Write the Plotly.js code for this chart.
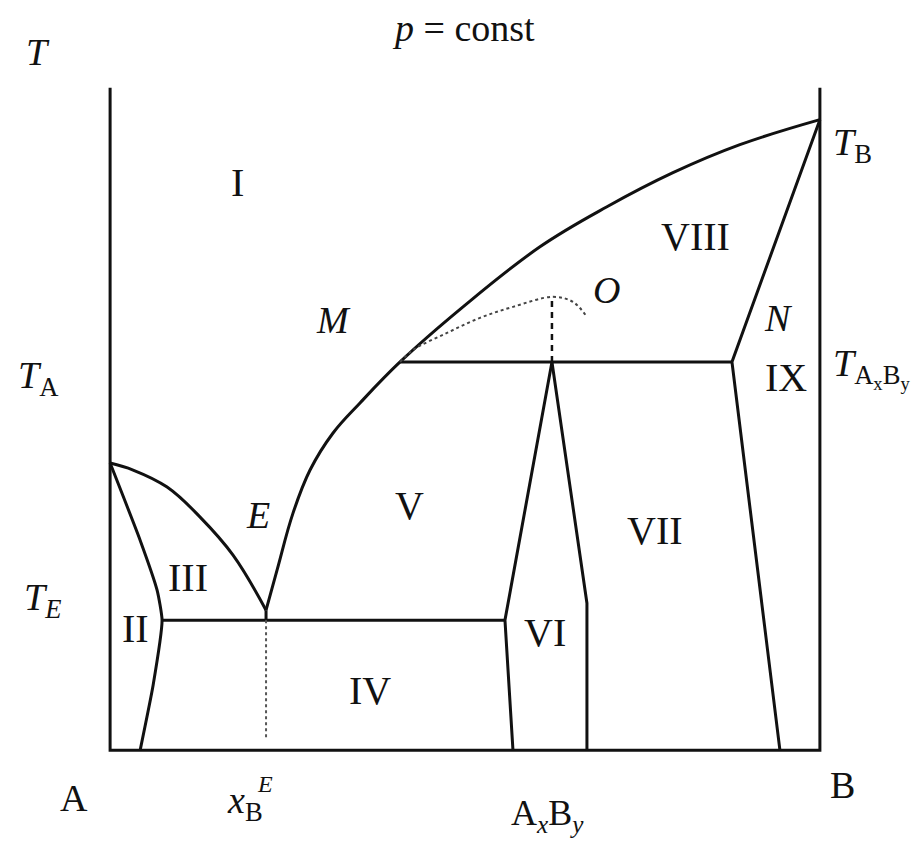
<!DOCTYPE html>
<html>
<head>
<meta charset="utf-8">
<script src="https://cdn.plot.ly/plotly-3.0.1.min.js"></script>
<style>
  html, body { margin: 0; padding: 0; background: #fff; }
  #chart { width: 922px; height: 841px; }
</style>
</head>
<body>
<div id="chart"></div>
<script>
// Binary phase diagram A–B at constant pressure with an incongruently
// melting compound AxBy. Composition x_B runs 0..1, temperature is scaled 0..1.

// Diagram frame (left axis A, bottom, right axis B)
const frame_x = [0, 0, 1, 1];
const frame_T = [1, 0, 0, 1];

// Liquidus from the melting point of A down to the eutectic point E
const liqA_x = [0, 0.0324, 0.0803, 0.1268, 0.1732, 0.2197];
const liqA_T = [0.4335, 0.4230, 0.3973, 0.3520, 0.2946, 0.2115];

// Liquidus from E through the peritectic point M up to the melting point of B
const liqB_x = [0.2197, 0.2352, 0.2577, 0.2817, 0.3141, 0.3521, 0.4085, 0.4972, 0.6056, 0.7000, 0.7930, 0.8873, 1.0];
const liqB_T = [0.2115, 0.2719, 0.3580, 0.4230, 0.4789, 0.5242, 0.5861, 0.6692, 0.7598, 0.8202, 0.8716, 0.9139, 0.9517];

// Solid solution of A (region II boundary)
const ssA_x = [0, 0.0423, 0.0662, 0.0732, 0.0606, 0.0423];
const ssA_T = [0.4335, 0.3172, 0.2417, 0.1964, 0.0982, 0];

// Eutectic isotherm T_E
const eut_x = [0.0732, 0.5563];
const eut_T = [0.1964, 0.1964];

// Short drop at the eutectic point onto the isotherm
const eutDrop_x = [0.2197, 0.2197];
const eutDrop_T = [0.2115, 0.1964];

// Eutectic composition marker x_B^E
const xE_x = [0.2197, 0.2197];
const xE_T = [0.1964, 0.0151];

// Peritectic isotherm T_AxBy
const per_x = [0.4085, 0.8761];
const per_T = [0.5861, 0.5861];

// Homogeneity range of the compound AxBy (region VI)
const cmpL_x = [0.6225, 0.5563, 0.5676];
const cmpL_T = [0.5861, 0.1964, 0];
const cmpR_x = [0.6225, 0.6718, 0.6718];
const cmpR_T = [0.5861, 0.2221, 0];

// Solid solution of B: solidus N and solvus
const solB_x = [1.0, 0.8761, 0.9437];
const solB_T = [0.9517, 0.5861, 0];

// Metastable liquidus of AxBy (point O) and its hidden maximum
const meta_x = [0.4085, 0.4268, 0.4746, 0.5211, 0.5676, 0.6239, 0.6521, 0.6718];
const meta_T = [0.5861, 0.6042, 0.6299, 0.6526, 0.6692, 0.6843, 0.6767, 0.6541];
const hidMax_x = [0.6225, 0.6225];
const hidMax_T = [0.5861, 0.6843];

const INK = '#111';
const solid = { color: INK, width: 3 };
const X_RANGE = [-0.01, 1.01];
const Y_RANGE = [-0.01, 1.01];

function line(x, y, style) {
  return { x, y, type: 'scatter', mode: 'lines', line: style, hoverinfo: 'skip', showlegend: false };
}

const traces = [
  line(frame_x, frame_T, solid),
  line(liqA_x, liqA_T, { color: INK, width: 3, shape: 'spline', smoothing: 1.1 }),
  line(liqB_x, liqB_T, { color: INK, width: 3, shape: 'spline', smoothing: 1.1 }),
  line(ssA_x, ssA_T, { color: INK, width: 3, shape: 'spline', smoothing: 0.5 }),
  line(eut_x, eut_T, solid),
  line(eutDrop_x, eutDrop_T, solid),
  line(xE_x, xE_T, { color: '#555', width: 2, dash: 'dot' }),
  line(per_x, per_T, solid),
  line(cmpL_x, cmpL_T, solid),
  line(cmpR_x, cmpR_T, solid),
  line(solB_x, solB_T, solid),
  line(meta_x, meta_T, { color: '#444', width: 2, dash: 'dot', shape: 'spline', smoothing: 1.0 }),
  line(hidMax_x, hidMax_T, { color: INK, width: 2.5, dash: '6px,5px' })
];

// Labels are placed in paper space so that those outside the frame still show.
const FONT = "'Liberation Serif', 'Times New Roman', Times, serif";
function lbl(text, x, y, size, xanchor) {
  return {
    text,
    x: (x - X_RANGE[0]) / (X_RANGE[1] - X_RANGE[0]),
    y: (y - Y_RANGE[0]) / (Y_RANGE[1] - Y_RANGE[0]),
    xref: 'paper', yref: 'paper', showarrow: false,
    xanchor: xanchor || 'center', yanchor: 'middle',
    font: { family: FONT, size: size || 40, color: INK }
  };
}

const annotations = [
  lbl('<i>T</i>', -0.1014, 1.0544, 38),
  lbl('<i>p</i> = const', 0.4972, 1.0906, 38),
  lbl('<i>T</i><sub>B</sub>', 1.0155, 0.9139, 38, 'left'),
  lbl('I', 0.1789, 0.8565),
  lbl('VIII', 0.8254, 0.7749),
  lbl('<i>O</i>', 0.7000, 0.6949, 38),
  lbl('<i>M</i>', 0.3141, 0.6495, 38),
  lbl('<i>N</i>', 0.9423, 0.6526, 38),
  lbl('<i>T</i><sub>A</sub>', -0.1014, 0.5619, 38),
  lbl('<i>T</i><sub>A<sub>x</sub>B<sub>y</sub></sub>', 1.0155, 0.5770, 38, 'left'),
  lbl('IX', 0.9521, 0.5619),
  lbl('V', 0.4225, 0.3701),
  lbl('<i>E</i>', 0.2085, 0.3550, 38),
  lbl('VII', 0.7676, 0.3323),
  lbl('III', 0.1099, 0.2613),
  lbl('<i>T</i><sub><i>E</i></sub>', -0.0958, 0.2266, 38),
  lbl('II', 0.0352, 0.1843),
  lbl('VI', 0.6127, 0.1782),
  lbl('IV', 0.3662, 0.0906),
  lbl('A', -0.0507, -0.0725, 38),
  lbl('<i>x</i><sub>B</sub>', 0.1901, -0.0790, 38),
  lbl('<i>E</i>', 0.2180, -0.0500, 24),
  lbl('A<sub><i>x</i></sub>B<sub><i>y</i></sub>', 0.6169, -0.0985, 36),
  lbl('B', 1.0324, -0.0529, 38)
];

const layout = {
  width: 922,
  height: 841,
  margin: { l: 103, r: 95, t: 81, b: 84, pad: 0, autoexpand: false },
  paper_bgcolor: '#fff',
  plot_bgcolor: '#fff',
  xaxis: { range: X_RANGE, visible: false, fixedrange: true },
  yaxis: { range: Y_RANGE, visible: false, fixedrange: true },
  showlegend: false,
  annotations
};

Plotly.newPlot('chart', traces, layout, { staticPlot: true, displayModeBar: false });
</script>
</body>
</html>
